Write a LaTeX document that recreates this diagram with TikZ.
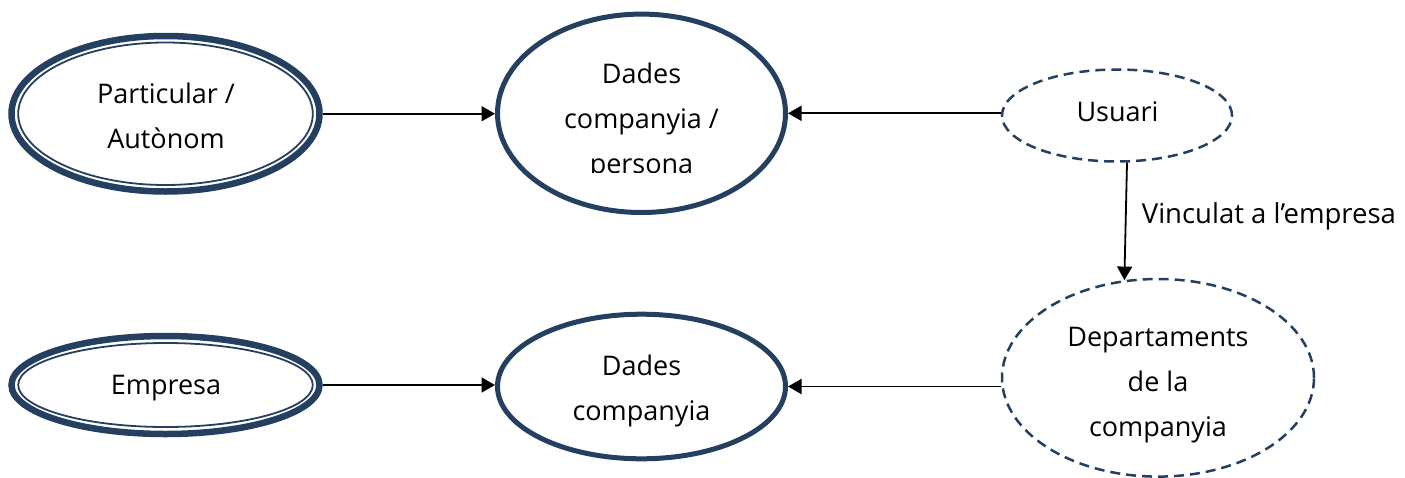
\documentclass[tikz,border=0pt]{standalone}
\usepackage{fontspec}
\setmainfont{Open Sans}
\usetikzlibrary{shapes.geometric,arrows.meta}
\definecolor{navy}{HTML}{243F60}
\begin{document}
\begin{tikzpicture}[x=1pt,y=-1pt,
  solidell/.style={ellipse, draw=navy, line width=5pt, inner sep=0pt},
  outerell/.style={ellipse, draw=navy, line width=6.5pt, inner sep=0pt},
  thinell/.style={ellipse, draw=navy, line width=1.8pt, inner sep=0pt},
  dashell/.style={ellipse, draw=navy, line width=2.5pt, dash pattern=on 10pt off 6pt, inner sep=0pt},
  lbl/.style={font=\fontsize{27}{45}\selectfont, align=center, inner sep=0pt, anchor=base},
  arr/.style={draw=black, line width=1.8pt, -{Triangle[length=13.5pt,width=15pt]}}]
\useasboundingbox (0,0) rectangle (1405,477);
% double ellipses
\node[outerell, minimum width=308pt, minimum height=155.5pt] (pa) at (165.5,113.75) {};
\node[thinell, minimum width=294.6pt, minimum height=142.5pt] (pai) at (165.5,113.75) {};
\node[lbl] (pat) at (166,148) {Particular /\\Autònom};
\node[outerell, minimum width=308pt, minimum height=98pt] (em) at (165.5,385) {};
\node[thinell, minimum width=294.6pt, minimum height=84pt] (emi) at (165.5,385) {};
\node[lbl] (emt) at (166,394) {Empresa};
% solid ellipses
\node[solidell, minimum width=288pt, minimum height=198.4pt] (dp) at (641.5,113.3) {};
\begin{scope}
  \clip (450,0) rectangle (850,172.5);
  \node[lbl] (dpt) at (641.5,173.3) {Dades\\companyia /\\persona};
\end{scope}
\node[solidell, minimum width=288pt, minimum height=144.6pt] (dc) at (641.5,386.5) {};
\node[lbl] (dct) at (641.5,420) {Dades\\companyia};
% dashed ellipses
\node[dashell, minimum width=230pt, minimum height=92pt] (u) at (1117,115.5) {};
\node[lbl] (ut) at (1117.5,121.7) {Usuari};
\node[dashell, minimum width=312pt, minimum height=197.6pt] (d) at (1158,377.8) {};
\node[lbl] (dt) at (1158,436.7) {Departaments\\de la\\companyia};
% connectors
\draw[arr] (pa.east) -- (pa.east -| dp.west);
\draw[arr] (u.west |- dp.east) -- (dp.east);
\draw[arr] (em.east) -- (em.east -| dc.west);
\draw[arr] (d.west |- dc.east) -- (dc.east);
\draw[arr] (u.282) -- (d.109);
\node[lbl, anchor=base west, font=\fontsize{27.5}{45}\selectfont] (vl) at (1141.7,223.3) {Vinculat a l’empresa};
\end{tikzpicture}
\end{document}
